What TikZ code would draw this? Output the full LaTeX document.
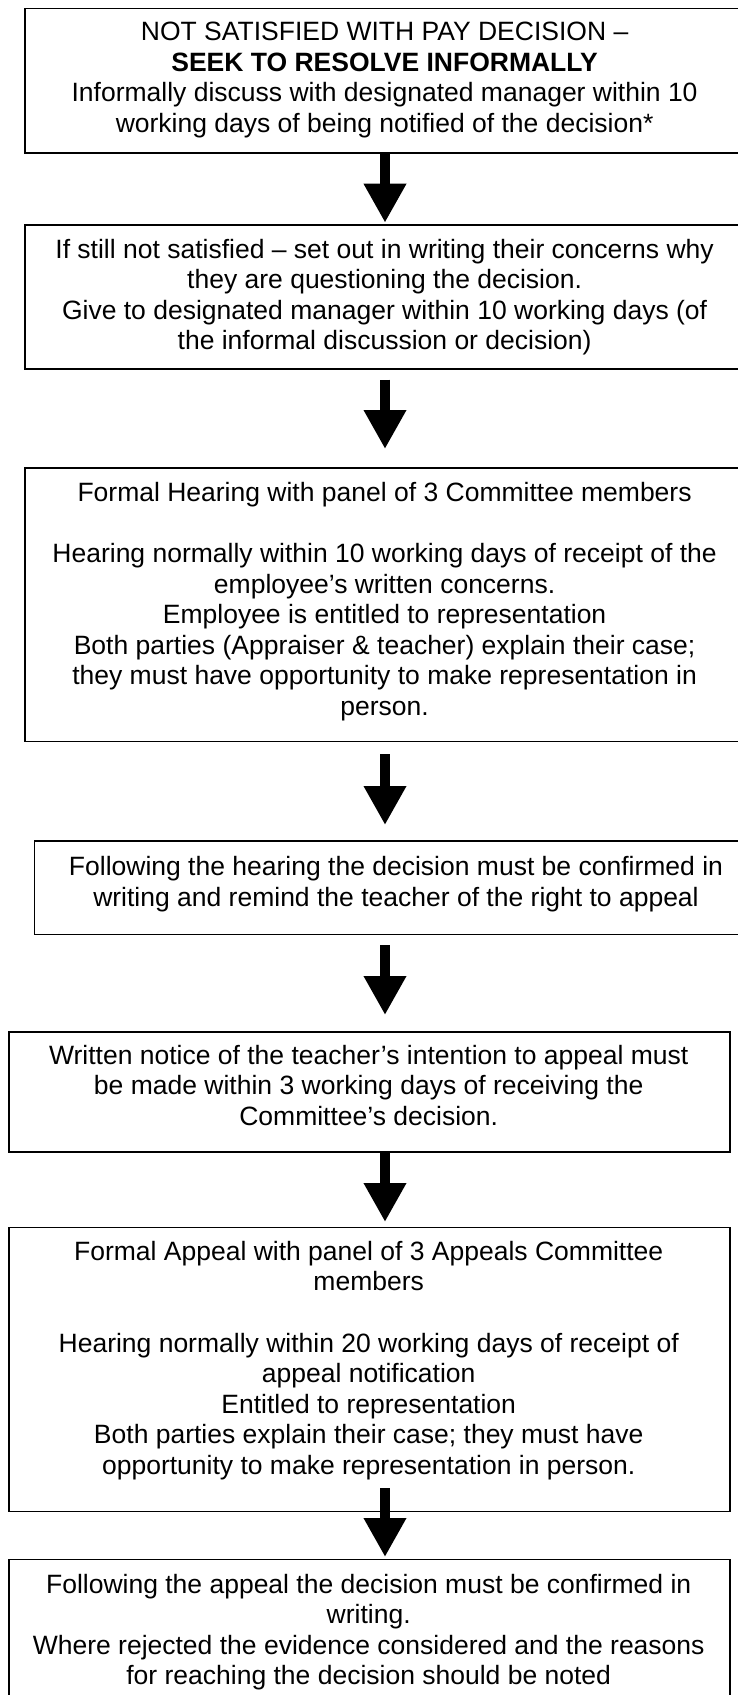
\documentclass[tikz,border=0pt]{standalone}
\usepackage{fontspec}
\setmainfont{Liberation Sans}
\usetikzlibrary{arrows.meta,calc}
\begin{document}
\begin{tikzpicture}[x=1pt,y=-1pt,
  box/.style={draw=black, line width=1.5pt, rectangle, inner sep=0pt, anchor=north west},
  txt/.style={align=center, inner sep=0pt, font=\fontsize{26.5}{30.6}\selectfont},
  flow/.style={line width=10pt, -{Triangle[width=40pt,length=39pt]}}]
\useasboundingbox (0,0) rectangle (738,1695);
\fill[white] (0,0) rectangle (738,1695);
\coordinate (ax) at (385,0);
% boxes
\node[box, minimum width=720.7pt, minimum height=144.8pt] (b1) at (24.3,7.5) {};
\node[box, minimum width=720.7pt, minimum height=144pt] (b2) at (24.3,224) {};
\node[box, minimum width=720.7pt, minimum height=273.7pt] (b3) at (24.3,467) {};
\node[box, minimum width=721.3pt, minimum height=93.5pt] (b4) at (33.7,840) {};
\node[box, minimum width=720.7pt, minimum height=120pt] (b5) at (8.3,1031) {};
\node[box, minimum width=720.7pt, minimum height=284pt] (b6) at (8.3,1226.7) {};
\node[box, minimum width=720.7pt, minimum height=170pt] (b7) at (8.3,1558.5) {};
% texts
\node[txt] (t1) at (384.6,80.3) {\strut NOT SATISFIED WITH PAY DECISION –\\ \textbf{SEEK TO RESOLVE INFORMALLY}\\ Informally discuss with designated manager within 10\\ working days of being notified of the decision*\strut};
\node[txt] (t2) at (384.6,297.8) {\strut If still not satisfied – set out in writing their concerns why\\ they are questioning the decision.\\ Give to designated manager within 10 working days (of\\ the informal discussion or decision)\strut};
\node[txt] (t3) at (384.6,602.3) {\strut Formal Hearing with panel of 3 Committee members\\[30.6pt] Hearing normally within 10 working days of receipt of the\\ employee’s written concerns.\\ Employee is entitled to representation\\ Both parties (Appraiser \& teacher) explain their case;\\ they must have opportunity to make representation in\\ person.\strut};
\node[txt] (t4) at (396,884.8) {\strut Following the hearing the decision must be confirmed in\\ writing and remind the teacher of the right to appeal\strut};
\node[txt] (t5) at (368.7,1088.8) {\strut Written notice of the teacher’s intention to appeal must\\ be made within 3 working days of receiving the\\ Committee’s decision.\strut};
\node[txt] (t6) at (368.7,1361.3) {\strut Formal Appeal with panel of 3 Appeals Committee\\ members\\[30.6pt] Hearing normally within 20 working days of receipt of\\ appeal notification\\ Entitled to representation\\ Both parties explain their case; they must have\\ opportunity to make representation in person.\strut};
\node[txt] (t7) at (368.7,1632.8) {\strut Following the appeal the decision must be confirmed in\\ writing.\\ Where rejected the evidence considered and the reasons\\ for reaching the decision should be noted\strut};
% arrows
\draw[flow] (b1.south -| ax) -- ($(b2.north -| ax)+(0,-1.3)$);
\draw[flow] ($(b2.south -| ax)+(0,10)$) -- ($(b3.north -| ax)+(0,-18)$);
\draw[flow] ($(b3.south -| ax)+(0,12)$) -- ($(b4.north -| ax)+(0,-15)$);
\draw[flow] ($(b4.south -| ax)+(0,10)$) -- ($(b5.north -| ax)+(0,-16)$);
\draw[flow] (b5.south -| ax) -- ($(b6.north -| ax)+(0,-4.7)$);
\draw[flow] ($(b6.south -| ax)+(0,-24)$) -- ($(b7.north -| ax)+(0,-1.5)$);
\end{tikzpicture}
\end{document}
